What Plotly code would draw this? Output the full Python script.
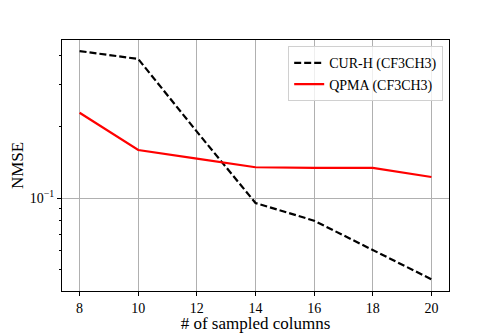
import plotly.graph_objects as go

columns = [8, 10, 12, 14, 16, 18, 20]
cur_h = [0.417, 0.386, 0.1905, 0.0953, 0.0802, 0.0603, 0.0454]
qpma = [0.229, 0.1594, 0.1465, 0.1348, 0.1339, 0.1339, 0.1226]
x_ticks = [8, 10, 12, 14, 16, 18, 20]
y_major = [0.1]
y_major_text = ["10<sup>\u22121</sup>"]
y_minor = [0.05, 0.06, 0.07, 0.08, 0.09, 0.2, 0.3, 0.4]

font_family = "Liberation Serif"

fig = go.Figure()
fig.add_trace(go.Scatter(x=columns, y=cur_h, mode="lines", name="CUR-H (CF3CH3)",
                         line=dict(color="black", width=2.2, dash="7px,3px")))
fig.add_trace(go.Scatter(x=columns, y=qpma, mode="lines", name="QPMA (CF3CH3)",
                         line=dict(color="red", width=2.2)))

fig.update_layout(
    width=499, height=333,
    margin=dict(l=62, r=50, t=40, b=42),
    paper_bgcolor="white", plot_bgcolor="white",
    font=dict(family=font_family, size=14, color="black"),
    showlegend=True,
    legend=dict(x=0.985, y=0.975, xanchor="right", yanchor="top",
                bgcolor="rgba(255,255,255,0.8)", bordercolor="#d0d0d0", borderwidth=1,
                font=dict(family=font_family, size=14), tracegroupgap=0,
                itemwidth=30),
)
fig.update_xaxes(
    range=[7.4, 20.6], tickvals=x_ticks, ticks="outside", ticklen=4, tickwidth=1,
    tickcolor="black", showgrid=True, gridcolor="#b0b0b0", gridwidth=1,
    showline=True, linecolor="black", linewidth=1, mirror=True, zeroline=False,
    automargin=False,
    title=dict(text="# of sampled columns", standoff=2),
)
fig.update_yaxes(
    type="log", range=[-1.3924, -0.3333], tickvals=y_major, ticktext=y_major_text,
    ticks="outside", ticklen=4, tickwidth=1, tickcolor="black",
    showgrid=True, gridcolor="#b0b0b0", gridwidth=1,
    showline=True, linecolor="black", linewidth=1, mirror=True, zeroline=False,
    automargin=False,
    minor=dict(tickvals=y_minor, ticks="outside", ticklen=2.5, tickcolor="black", showgrid=False),
    title=dict(text="NMSE", standoff=1),
)

fig.write_html("out.html", config={"displayModeBar": False},
               post_script="document.body.style.margin='0';document.body.style.overflow='hidden';")
